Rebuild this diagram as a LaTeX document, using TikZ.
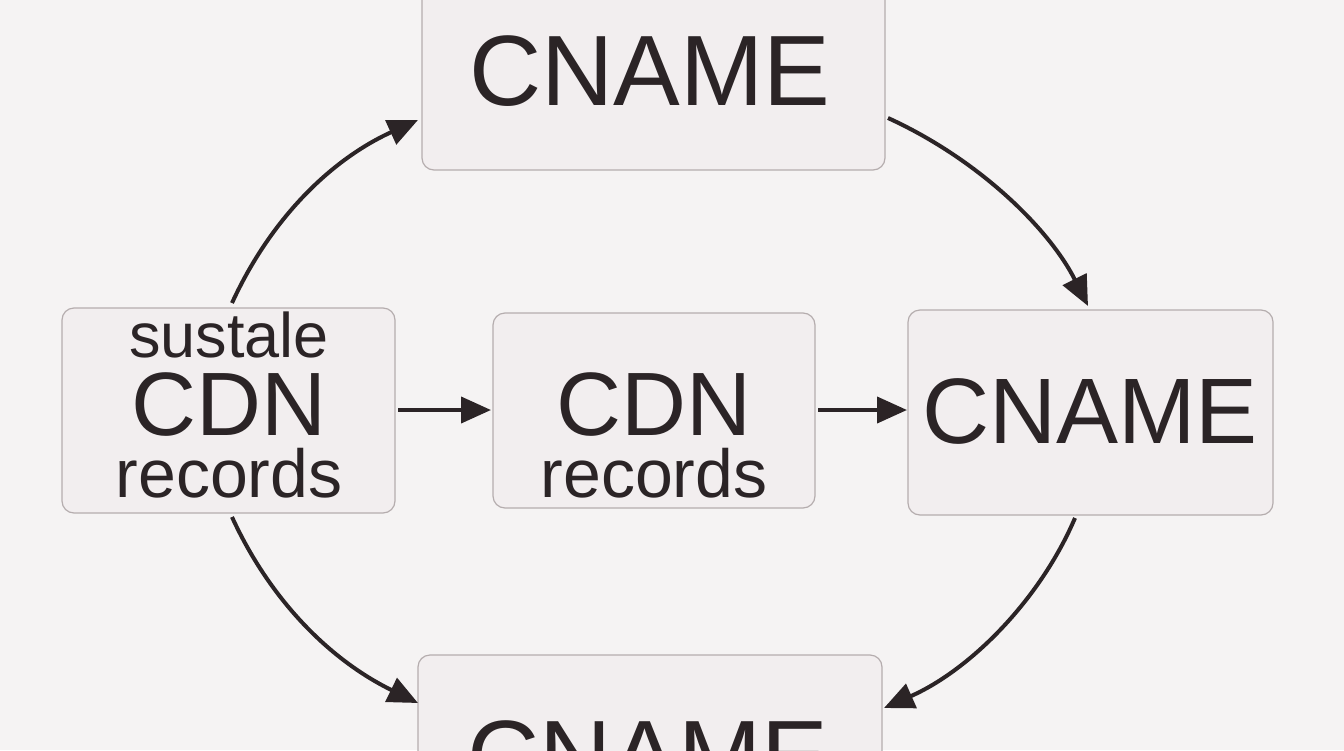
\documentclass[tikz,border=0pt]{standalone}
\usepackage{fontspec}
\setmainfont{Liberation Sans}
\usetikzlibrary{arrows.meta}
\definecolor{bg}{HTML}{F5F3F3}
\definecolor{bx}{HTML}{F2EEEF}
\definecolor{bd}{HTML}{B5ADAE}
\definecolor{ink}{HTML}{2B2426}
\begin{document}
\begin{tikzpicture}[x=1pt,y=-1pt,
  box/.style={draw=bd,line width=1.2pt,fill=bx,rounded corners=12pt,inner sep=0pt},
  lbl/.style={text=ink,inner sep=0pt,anchor=base},
  arr/.style={draw=ink,line width=4pt,-{Triangle[length=30pt,width=26pt]}}]
\useasboundingbox (0,0) rectangle (1344,750);
\fill[bg] (0,0) rectangle (1344,750);
\clip (0,0) rectangle (1344,750);
\node[box,minimum width=463pt,minimum height=190pt] (top) at (653.5,75) {};
\node[lbl,font=\fontsize{100}{100}\selectfont] (t1) at (650,105) {CNAME};
\node[box,minimum width=333pt,minimum height=205pt] (left) at (228.5,410.5) {};
\node[lbl,font=\fontsize{63}{63}\selectfont] (l1) at (229,357) {sustale};
\node[lbl,font=\fontsize{90}{90}\selectfont] (l2) at (229,435) {CDN};
\node[lbl,font=\fontsize{68}{68}\selectfont] (l3) at (229,497) {records};
\node[box,minimum width=322pt,minimum height=195pt] (midb) at (654,410.5) {};
\node[lbl,font=\fontsize{90}{90}\selectfont] (m1) at (654,435) {CDN};
\node[lbl,font=\fontsize{68}{68}\selectfont] (m2) at (654,497) {records};
\node[box,minimum width=365pt,minimum height=205pt] (right) at (1090.5,412.5) {};
\node[lbl,font=\fontsize{93}{93}\selectfont] (r1) at (1090,443) {CNAME};
\node[box,minimum width=464pt,minimum height=200pt] (bot) at (650,755) {};
\node[lbl,font=\fontsize{100}{100}\selectfont] (b1) at (648,790) {CNAME};
\path[arr] (232,303) .. controls (270,220) and (330,160) .. (418,120);
\path[arr] (888,118) .. controls (980,160) and (1050,230) .. (1088,306);
\path[arr] (232,517) .. controls (270,600) and (330,660) .. (418,703);
\path[arr] (1075,518) .. controls (1040,600) and (970,670) .. (884,708);
\path[arr] (398,410) -- (491,410);
\path[arr] (818,410) -- (907,410);
\end{tikzpicture}
\end{document}
